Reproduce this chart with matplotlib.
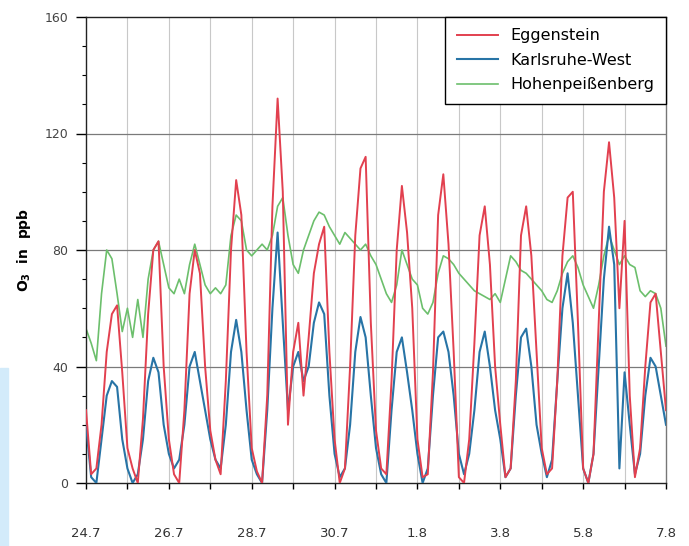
import numpy as np
import matplotlib.pyplot as plt
from matplotlib.patches import Rectangle
from matplotlib.ticker import MultipleLocator

# 3-hourly values, 24.7 00h ... 8.8 00h (days since 24.7)
eggenstein = [25, 3, 5, 20, 45, 58, 61, 38,
              12, 5, 0, 22, 58, 80, 83, 40,
              15, 3, 0, 25, 65, 80, 72, 40,
              18, 8, 3, 35, 80, 104, 92, 45,
              12, 4, 0, 30, 95, 132, 100, 20,
              45, 55, 30, 50, 72, 82, 88, 45,
              15, 0, 5, 40, 85, 108, 112, 55,
              18, 5, 3, 35, 80, 102, 86, 60,
              15, 2, 3, 38, 92, 106, 82, 45,
              2, 0, 15, 48, 85, 95, 75, 40,
              20, 2, 5, 35, 85, 95, 78, 45,
              12, 3, 5, 35, 78, 98, 100, 55,
              5, 0, 10, 55, 100, 117, 98, 60,
              90, 30, 2, 12, 40, 62, 65, 45,
              25]
karlsruhe = [20, 2, 0, 15, 30, 35, 33, 15,
             5, 0, 3, 15, 35, 43, 38, 20,
             10, 5, 8, 20, 40, 45, 35, 25,
             15, 8, 5, 20, 45, 56, 45, 25,
             8, 3, 0, 25, 60, 86, 55, 25,
             40, 45, 35, 40, 55, 62, 58, 30,
             10, 2, 5, 20, 45, 57, 50, 30,
             12, 3, 0, 25, 45, 50, 38, 25,
             10, 0, 5, 30, 50, 52, 45, 30,
             10, 3, 10, 25, 45, 52, 40, 25,
             15, 2, 5, 30, 50, 53, 40, 20,
             10, 2, 8, 35, 60, 72, 55, 30,
             5, 0, 10, 40, 70, 88, 75, 5,
             38, 20, 3, 10, 30, 43, 40, 30,
             20]
hohenpeissenberg = [53, 48, 42, 65, 80, 77, 65, 52,
                    60, 50, 63, 50, 70, 80, 83, 75,
                    67, 65, 70, 65, 75, 82, 75, 68,
                    65, 67, 65, 68, 85, 92, 90, 80,
                    78, 80, 82, 80, 85, 95, 98, 85,
                    75, 72, 80, 85, 90, 93, 92, 88,
                    85, 82, 86, 84, 82, 80, 82, 78,
                    75, 70, 65, 62, 68, 80, 75, 70,
                    68, 60, 58, 62, 72, 78, 77, 75,
                    72, 70, 68, 66, 65, 64, 63, 65,
                    62, 70, 78, 76, 73, 72, 70, 68,
                    66, 63, 62, 66, 72, 76, 78, 74,
                    68, 64, 60, 68, 78, 85, 80, 75,
                    78, 75, 74, 66, 64, 66, 65, 60,
                    47]
day_labels = ['24.7', '26.7', '28.7', '30.7', '1.8', '3.8', '5.8', '7.8']

t = np.arange(len(eggenstein)) / 8.0

RED = '#e2404f'
BLUE = '#2874a6'
GREEN = '#6cbf6c'

fig = plt.figure(figsize=(6.89, 5.46), dpi=100)
ax = fig.add_axes([86/689, 1-483/546, 580/689, 466/546])

ax.plot(t, hohenpeissenberg, color=GREEN, lw=1.2, zorder=2)
ax.plot(t, karlsruhe, color=BLUE, lw=1.5, zorder=3)
ax.plot(t, eggenstein, color=RED, lw=1.4, zorder=4)

h1, = ax.plot([], [], color=RED, lw=1.4, label='Eggenstein')
h2, = ax.plot([], [], color=BLUE, lw=1.5, label='Karlsruhe-West')
h3, = ax.plot([], [], color=GREEN, lw=1.2, label='Hohenpeißenberg')

ax.set_xlim(0, 14)
ax.set_ylim(0, 160)

# grid
for d in range(1, 14):
    ax.axvline(d, color='#c8c8c8', lw=0.8, zorder=1)
for v in (40, 80, 120):
    ax.axhline(v, color='#7a7a7a', lw=0.9, zorder=1)

ax.yaxis.set_major_locator(MultipleLocator(40))
ax.yaxis.set_minor_locator(MultipleLocator(10))
ax.set_xticks(np.arange(0, 15, 2))
ax.set_xticklabels(day_labels)
ax.xaxis.set_minor_locator(MultipleLocator(1))

ax.tick_params(axis='y', which='major', direction='out', length=7, width=1,
               labelsize=9, labelcolor='#444444', pad=6)
ax.tick_params(axis='y', which='minor', direction='out', length=3, width=0.8)
ax.tick_params(axis='x', which='both', direction='out', length=4, width=1,
               labelsize=9.5, labelcolor='#333333', pad=28)

for s in ax.spines.values():
    s.set_color('#222222')
    s.set_linewidth(1.0)
ax.spines['right'].set_color('#777777')

ax.set_ylabel(r'O$_\mathbf{3}$  in  ppb', fontweight='bold', fontsize=10, labelpad=8)

leg = ax.legend(handles=[h1, h2, h3], loc='upper right', fontsize=11.5,
                fancybox=False, edgecolor='black', framealpha=1,
                borderaxespad=0, handlelength=2.6, handletextpad=0.8,
                borderpad=0.7, labelspacing=0.6)
leg.get_frame().set_linewidth(1.0)

# light blue strip at the left edge of the scan
fig.patches.append(Rectangle((0, 0), 8/689, (546-368)/546, transform=fig.transFigure,
                             color='#d3ebfa', zorder=0))

fig.savefig('out.png', dpi=100)
